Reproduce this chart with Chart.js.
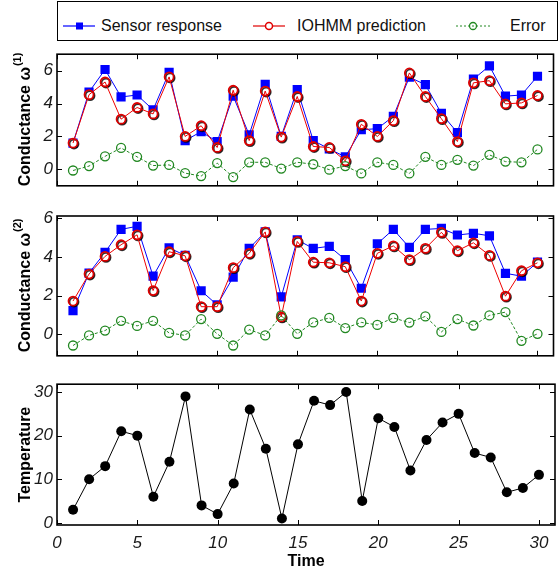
<!DOCTYPE html>
<html>
<head>
<meta charset="utf-8">
<script src="https://cdn.jsdelivr.net/npm/chart.js@4.4.1/dist/chart.umd.min.js"></script>
<style>
  body { margin: 0; background: #fff; width: 560px; height: 575px; position: relative; overflow: hidden; font-family: "Liberation Sans", Arial, sans-serif; }
  canvas { position: absolute; left: 0; }
  #legend { position: absolute; left: 57px; top: 1px; width: 499px; height: 38px; border: 1.5px solid #000; }
  #legend svg { position: absolute; top: 0; }
  #legend span { position: absolute; top: 15px; font-size: 16px; line-height: 18px; color: #111; white-space: nowrap; }
</style>
</head>
<body>
<div id="legend">
  <svg style="left:4px" width="34" height="40"><line x1="1" y1="24" x2="33" y2="24" stroke="#0000ff" stroke-width="1.2"/><rect x="14" y="20.5" width="7" height="7" fill="#0000ff"/></svg>
  <span style="left:43px">Sensor response</span>
  <svg style="left:194px" width="34" height="40"><line x1="1" y1="24" x2="33" y2="24" stroke="#e00000" stroke-width="1.2"/><circle cx="17" cy="24" r="3.5" fill="#fff" stroke="#e00000" stroke-width="1.5"/></svg>
  <span style="left:239px">IOHMM prediction</span>
  <svg style="left:397px" width="36" height="40"><line x1="1" y1="24" x2="35" y2="24" stroke="#228822" stroke-width="1" stroke-dasharray="2,2"/><circle cx="18" cy="24" r="3.5" fill="none" stroke="#228822" stroke-width="1.3"/></svg>
  <span style="left:452px">Error</span>
</div>
<canvas id="chartOmega1" width="560" height="160" style="top:40px"></canvas>
<canvas id="chartOmega2" width="560" height="170" style="top:200px"></canvas>
<canvas id="chartTemp" width="560" height="205" style="top:370px"></canvas>
<script>
// time steps (x axis)
const timeSteps = [1, 2, 3, 4, 5, 6, 7, 8, 9, 10, 11, 12, 13, 14, 15, 16, 17, 18, 19, 20, 21, 22, 23, 24, 25, 26, 27, 28, 29, 30];
const xTicks = [0, 5, 10, 15, 20, 25, 30];

// conductance omega(1)
const sensor1 = [1.6, 4.7, 6.07, 4.4, 4.52, 3.62, 5.89, 1.75, 2.29, 1.68, 4.45, 2.1, 5.17, 2.0, 4.85, 1.75, 1.24, 0.76, 2.41, 2.47, 3.22, 5.6, 5.15, 3.4, 2.23, 5.48, 6.29, 4.45, 4.52, 5.66];
const predict1 = [1.6, 4.54, 5.31, 3.05, 3.76, 3.37, 5.62, 2.0, 2.65, 1.33, 4.81, 1.75, 4.76, 1.96, 4.43, 1.39, 1.33, 0.52, 2.74, 2.0, 2.96, 5.86, 4.43, 3.08, 1.69, 5.26, 5.39, 3.98, 4.04, 4.49];
const error1 = [-0.07, 0.2, 0.79, 1.3, 0.76, 0.23, 0.27, -0.23, -0.41, 0.38, -0.47, 0.43, 0.43, 0.05, 0.43, 0.31, -0.02, 0.2, -0.25, 0.43, 0.27, -0.25, 0.76, 0.27, 0.58, 0.23, 0.88, 0.47, 0.43, 1.21];
const yTicks1 = [0, 2, 4, 6];

// conductance omega(2)
const sensor2 = [1.23, 3.16, 4.23, 5.41, 5.57, 3.0, 4.46, 4.07, 2.25, 1.52, 2.95, 4.43, 5.28, 1.93, 4.87, 4.43, 4.54, 3.85, 2.38, 4.67, 5.41, 4.48, 5.41, 5.46, 5.12, 5.21, 5.08, 3.15, 3.0, 3.72];
const predict2 = [1.72, 3.11, 4.02, 4.62, 5.13, 2.26, 4.26, 4.05, 1.43, 1.43, 3.44, 4.18, 5.28, 0.9, 4.79, 3.72, 3.69, 3.49, 1.72, 4.18, 4.56, 3.85, 4.43, 5.26, 4.31, 4.72, 4.07, 1.97, 3.28, 3.69];
const error2 = [-0.57, -0.05, 0.2, 0.7, 0.44, 0.7, 0.08, -0.05, 0.79, 0.03, -0.57, 0.25, -0.05, 0.98, 0.03, 0.62, 0.85, 0.33, 0.62, 0.49, 0.85, 0.61, 0.93, 0.13, 0.79, 0.46, 0.98, 1.15, -0.33, 0.03];
const yTicks2 = [0, 2, 4, 6];

// temperature
const temperature = [3, 10, 13, 21, 20, 6, 14, 29, 4, 2, 9, 26, 17, 1, 18, 28, 27, 30, 5, 24, 22, 12, 19, 23, 25, 16, 15, 7, 8, 11];
const yTicks3 = [0, 10, 20, 30];

const FONT = '"Liberation Sans", Arial, sans-serif';

function toPoints(values) {
    return timeSteps.map((t, i) => ({ x: t, y: values[i] }));
}

// black frame with inward ticks on all four sides
const frameTicks = {
    id: 'frameTicks',
    afterDraw(chart) {
        const { ctx, chartArea: a, scales } = chart;
        const len = 5;
        ctx.save();
        ctx.strokeStyle = '#000';
        ctx.lineWidth = 1;
        ctx.beginPath();
        scales.x.ticks.forEach(t => {
            const px = Math.round(scales.x.getPixelForValue(t.value)) + 0.5;
            ctx.moveTo(px, a.bottom); ctx.lineTo(px, a.bottom - len);
            ctx.moveTo(px, a.top); ctx.lineTo(px, a.top + len);
        });
        scales.y.ticks.forEach(t => {
            const py = Math.round(scales.y.getPixelForValue(t.value)) + 0.5;
            ctx.moveTo(a.left, py); ctx.lineTo(a.left + len, py);
            ctx.moveTo(a.right, py); ctx.lineTo(a.right - len, py);
        });
        ctx.stroke();
        ctx.lineWidth = 1.6;
        ctx.strokeRect(a.left, a.top, a.width, a.height);
        ctx.restore();
    }
};

// dark drop shadow under the prediction circles
const pointShadow = {
    id: 'pointShadow',
    beforeDatasetDraw(chart, args) {
        if (!chart.data.datasets[args.index].shadow) return;
        const ctx = chart.ctx;
        ctx.save();
        ctx.shadowColor = 'rgba(0,0,0,0.8)';
        ctx.shadowOffsetX = 1;
        ctx.shadowOffsetY = 1;
        ctx.shadowBlur = 0;
    },
    afterDatasetDraw(chart, args) {
        if (chart.data.datasets[args.index].shadow) chart.ctx.restore();
    }
};

// rotated y title with a real superscript
const yTitle = {
    id: 'yTitle',
    afterDraw(chart, args, opts) {
        const { ctx, chartArea: a } = chart;
        ctx.save();
        ctx.translate(26, (a.top + a.bottom) / 2);
        ctx.rotate(-Math.PI / 2);
        ctx.fillStyle = '#000';
        ctx.textBaseline = 'middle';
        ctx.textAlign = 'left';
        ctx.font = `bold 16px ${FONT}`;
        const w = ctx.measureText(opts.text).width;
        ctx.font = `bold 11px ${FONT}`;
        const ws = opts.sup ? ctx.measureText(opts.sup).width : 0;
        const x0 = -(w + ws) / 2;
        ctx.font = `bold 16px ${FONT}`;
        ctx.fillText(opts.text, x0, 0);
        if (opts.sup) {
            ctx.font = `bold 11px ${FONT}`;
            ctx.fillText(opts.sup, x0 + w + 1, -8);
        }
        ctx.restore();
    }
};

function sensorSet(values) {
    return {
        label: 'Sensor response', data: toPoints(values), order: 3,
        borderColor: '#0000ff', borderWidth: 1, backgroundColor: '#0000ff',
        pointStyle: 'rect', pointRadius: 6.5, pointBorderWidth: 0
    };
}
function predictSets(values) {
    return [{
        label: 'IOHMM prediction', data: toPoints(values), order: 2,
        borderColor: '#ee0000', borderWidth: 1, pointRadius: 0
    }, {
        label: 'IOHMM prediction', data: toPoints(values), order: 2, showLine: false, shadow: true,
        backgroundColor: '#fff', pointBorderColor: '#dd0000', pointRadius: 4.5, pointBorderWidth: 1.8
    }];
}
function errorSet(values) {
    return {
        label: 'Error', data: toPoints(values), order: 1,
        borderColor: '#228822', borderWidth: 1, borderDash: [3, 2], backgroundColor: 'rgba(0,0,0,0)',
        pointRadius: 4.5, pointBorderWidth: 1.3
    };
}

function createPanel(canvasId, datasets, opts) {
    const canvas = document.getElementById(canvasId);
    new Chart(canvas.getContext('2d'), {
        type: 'line',
        data: { datasets: datasets },
        options: {
            responsive: false,
            animation: false,
            layout: { padding: { left: 0, right: 3, top: opts.padTop, bottom: 0 } },
            plugins: {
                legend: { display: false },
                tooltip: { enabled: false },
                yTitle: { text: opts.yTitle, sup: opts.ySup }
            },
            elements: { line: { tension: 0 } },
            scales: {
                x: {
                    type: 'linear', min: 0, max: 31,
                    grid: { display: false, drawTicks: false }, border: { display: false },
                    afterBuildTicks: s => { s.ticks = xTicks.map(v => ({ value: v })); },
                    afterFit: s => { s.height = opts.xHeight; },
                    ticks: {
                        display: opts.showX, padding: 8, color: '#1a1a1a',
                        font: { family: FONT, size: 17, style: 'italic' }
                    },
                    title: {
                        display: opts.showX, text: 'Time', color: '#000', padding: { top: 0, bottom: 4 },
                        font: { family: FONT, size: 16, weight: 'bold' }
                    }
                },
                y: {
                    min: opts.yMin, max: opts.yMax,
                    grid: { display: false, drawTicks: false }, border: { display: false },
                    afterBuildTicks: s => { s.ticks = opts.yTicks.map(v => ({ value: v })); },
                    afterFit: s => { s.width = 57; },
                    ticks: {
                        padding: 4, color: '#1a1a1a',
                        font: { family: FONT, size: 17, style: 'italic' }
                    }
                }
            }
        },
        plugins: [frameTicks, pointShadow, yTitle]
    });
}

createPanel('chartOmega1', [sensorSet(sensor1), ...predictSets(predict1), errorSet(error1)], {
    padTop: 11, xHeight: 4, showX: false, yMin: -1, yMax: 7, yTicks: yTicks1, yTitle: 'Conductance ω', ySup: '(1)'
});
createPanel('chartOmega2', [sensorSet(sensor2), ...predictSets(predict2), errorSet(error2)], {
    padTop: 16, xHeight: 8, showX: false, yMin: -1.1, yMax: 6.1, yTicks: yTicks2, yTitle: 'Conductance ω', ySup: '(2)'
});
createPanel('chartTemp', [{
    label: 'Temperature', data: toPoints(temperature),
    borderColor: '#000', borderWidth: 1, backgroundColor: '#000',
    pointRadius: 5, pointBorderWidth: 0
}], {
    padTop: 12, xHeight: 50, showX: true, yMin: -0.5, yMax: 31.8, yTicks: yTicks3, yTitle: 'Temperature'
});
</script>
</body>
</html>
